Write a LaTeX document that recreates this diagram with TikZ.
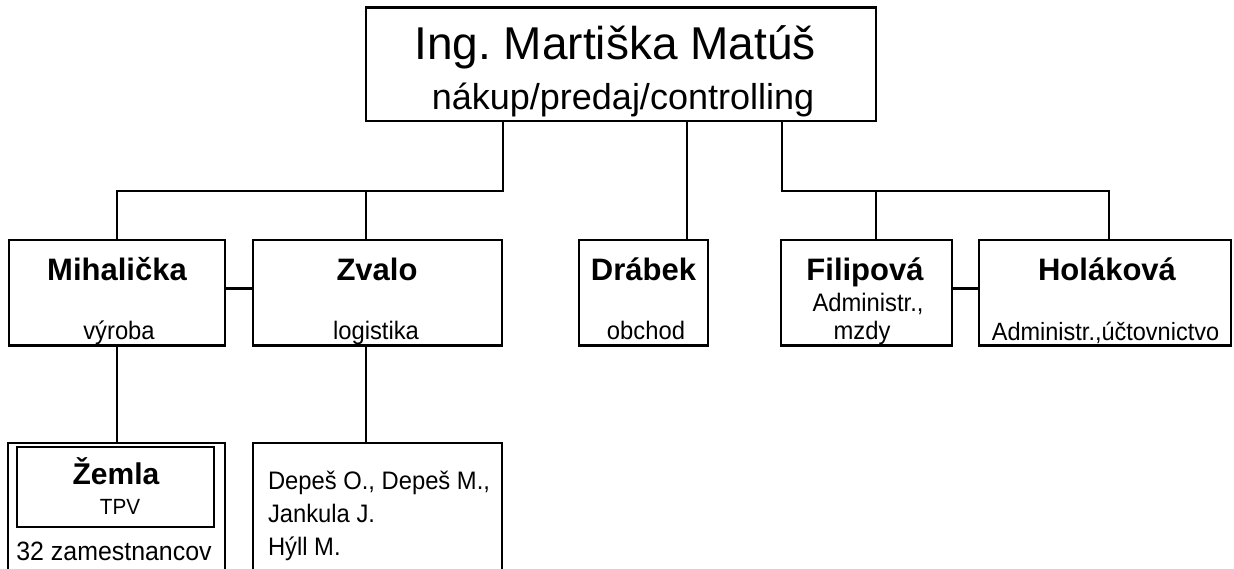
\documentclass[tikz,border=0pt]{standalone}
\usepackage{fontspec}
\setmainfont{Liberation Sans}
\frenchspacing
% slightly condensed setting used for the small labels
\newcommand\cond[2][0.94]{\scalebox{#1}[1]{#2}}
\tikzset{
  box/.style={draw, line width=2.8pt, inner sep=0pt, outer sep=0pt},
  wire/.style={draw, line width=2.8pt, line join=miter},
  lbl/.style={anchor=base, inner sep=0pt, outer sep=0pt},
  bigname/.style={lbl, font=\fontsize{46pt}{50pt}\selectfont},
  bigsub/.style={lbl, font=\fontsize{36pt}{40pt}\selectfont},
  personname/.style={lbl, font=\fontsize{31pt}{36pt}\selectfont\bfseries},
  roletext/.style={lbl, font=\fontsize{25.3pt}{30pt}\selectfont}}
\begin{document}
\begin{tikzpicture}[x=1pt,y=-1pt]
\useasboundingbox (0,0) rectangle (1234,569);
\clip (0,0) rectangle (1234,569);
\fill[white] (0,0) rectangle (1234,569);

% head of the company
\node[box, minimum width=510pt, minimum height=113.5pt] (top) at (621,64.25) {};
\node[bigname] (topname) at (615,60) {Ing. Martiška Matúš};
\node[bigsub] (toprole) at (623,110) {nákup/predaj/controlling};

% second level
\node[box, minimum width=216pt, minimum height=105.5pt] (mih) at (117,292.75) {};
\node[box, minimum width=249pt, minimum height=105.5pt] (zva) at (377.5,292.75) {};
\node[box, minimum width=129pt, minimum height=105.5pt] (dra) at (643.5,292.75) {};
\node[box, minimum width=171pt, minimum height=105.5pt] (fil) at (866.5,292.75) {};
\node[box, minimum width=252pt, minimum height=105.5pt] (hol) at (1105,292.75) {};

\node[personname] (mihname) at (117,281) {Mihalička};
\node[roletext] (mihrole) at (119,339) {\cond{výroba}};
\node[personname] (zvaname) at (377,281) {Zvalo};
\node[roletext] (zvarole) at (376,339) {\cond{logistika}};
\node[personname] (draname) at (643.5,280) {Drábek};
\node[roletext] (drarole) at (646,339) {\cond{obchod}};
\node[personname] (filname) at (865,281) {Filipová};
\node[roletext] (filrole) at (868,312) {\cond{Administr.,}};
\node[roletext] (filrole2) at (862,339) {\cond{mzdy}};
\node[personname] (holname) at (1107,281) {Holáková};
\node[roletext, font=\fontsize{25pt}{30pt}\selectfont] (holrole) at (1105.5,340) {\cond{Administr.,účtovnictvo}};

% third level (continues below the edge)
\node[box, minimum width=217pt, minimum height=157pt] (zemo) at (116.5,521.5) {};
\node[box, minimum width=197pt, minimum height=80pt] (zemi) at (115.5,487) {};
\node[lbl, font=\fontsize{30pt}{36pt}\selectfont\bfseries] (zemname) at (116,484) {Žemla};
\node[lbl, font=\fontsize{22pt}{26pt}\selectfont] (zemrole) at (120,514) {\cond{TPV}};
\node[lbl, font=\fontsize{26.5pt}{30pt}\selectfont] (zemcount) at (114,560) {\cond{32 zamestnancov}};

\node[box, minimum width=249pt, minimum height=157pt] (dep) at (377.5,521.5) {};
\node[roletext, anchor=base west] (dep1) at (268,489) {\cond{Depeš O., Depeš M.,}};
\node[roletext, anchor=base west] (dep2) at (268,522) {\cond{Jankula J.}};
\node[roletext, anchor=base west] (dep3) at (268,555) {\cond{Hýll M.}};

% bus points
\coordinate (bL) at (117,191);
\coordinate (bM) at (366,191);
\coordinate (bR) at (503,191);
\coordinate (bD) at (687,191);
\coordinate (bS) at (782,191);
\coordinate (bF) at (876,191);
\coordinate (bH) at (1109,191);

% connectors
\draw[wire] (bR |- top.south) -- (bR) -- (bL) -- (bL |- mih.north);
\draw[wire] (bM) -- (bM |- zva.north);
\draw[wire] (bD |- top.south) -- (bD |- dra.north);
\draw[wire] (bS |- top.south) -- (bS) -- (bH) -- (bH |- hol.north);
\draw[wire] (bF) -- (bF |- fil.north);
\draw[wire] ([yshift=4pt]mih.east) -- ([yshift=4pt]zva.west);
\draw[wire] ([yshift=4.5pt]fil.east) -- ([yshift=4.5pt]hol.west);
\draw[wire] (mih.south) -- (mih.south |- zemo.north);
\draw[wire] (bM |- zva.south) -- (bM |- dep.north);
\end{tikzpicture}
\end{document}
